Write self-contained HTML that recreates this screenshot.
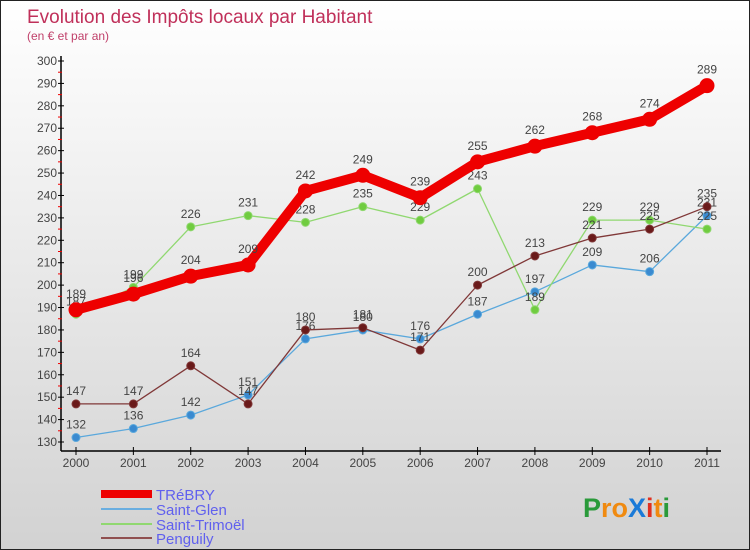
<!DOCTYPE html>
<html><head><meta charset="utf-8"><style>
body{margin:0;}
#wrap{width:750px;height:550px;position:relative;box-sizing:border-box;border:1px solid #222;background:linear-gradient(#ffffff,#d2d2d2);font-family:"Liberation Sans",sans-serif;overflow:hidden}
svg text{font-family:"Liberation Sans",sans-serif}
</style></head><body>
<div id="wrap">
<svg id="chart" width="750" height="550">
<text x="26" y="22" font-size="19" fill="#c0305a">Evolution des Impôts locaux par Habitant</text>
<text x="26" y="39" font-size="12" fill="#c0406a">(en € et par an)</text>
<g id="axes"></g><g id="series"></g>
<g>
<rect x="100" y="489" width="51" height="8" fill="#e00"/>
<text x="155" y="499" font-size="15" fill="#6060ee">TRéBRY</text>
<rect x="100" y="507" width="51" height="2" fill="#6aaee0"/>
<text x="155" y="514" font-size="15" fill="#6060ee">Saint-Glen</text>
<rect x="100" y="522" width="51" height="2" fill="#90d870"/>
<text x="155" y="529" font-size="15" fill="#6060ee">Saint-Trimoël</text>
<rect x="100" y="536" width="51" height="2" fill="#905050"/>
<text x="155" y="543" font-size="15" fill="#6060ee">Penguily</text>
</g>
<text x="582" y="516" font-size="27" font-weight="bold"><tspan fill="#2a9a3a">P</tspan><tspan fill="#f08a10">ro</tspan><tspan fill="#1a7ad8">X</tspan><tspan fill="#e03020">i</tspan><tspan fill="#f08a10">t</tspan><tspan fill="#2a9a3a">i</tspan></text>
</svg></div>
<script>
const years=[2000,2001,2002,2003,2004,2005,2006,2007,2008,2009,2010,2011];
const trebry=[189,196,204,209,242,249,239,255,262,268,274,289];
const saintGlen=[132,136,142,151,176,180,176,187,197,209,206,231];
const saintTrimoel=[187,199,226,231,228,235,229,243,189,229,229,225];
const penguily=[147,147,164,147,180,181,171,200,213,221,225,235];
const yTicks=[130,140,150,160,170,180,190,200,210,220,230,240,250,260,270,280,290,300];
const NS="http://www.w3.org/2000/svg";
const x=i=>75+i*(706-75)/(years.length-1);
const y=v=>441-(v-130)*(441-60)/170;
function mk(t,a,p){const e=document.createElementNS(NS,t);for(const k in a)e.setAttribute(k,a[k]);p.appendChild(e);return e;}
const ax=document.getElementById('axes');
let e=mk('line',{x1:60,y1:55,x2:60,y2:450,stroke:'#000','stroke-width':1.5},ax);


e=mk('line',{x1:60,y1:450,x2:720,y2:450,stroke:'#000','stroke-width':1.5},ax);


yTicks.forEach((v,i)=>{
 mk('line',{x1:57,y1:y(v),x2:63,y2:y(v),stroke:'#000'},ax);
 if(i<yTicks.length-1)mk('line',{x1:57,y1:y(v+5),x2:61,y2:y(v+5),stroke:'#e00'},ax);
 const t=mk('text',{x:56,y:y(v)+4,'font-size':12,fill:'#444','text-anchor':'end'},ax);t.textContent=v;
 
 
});
years.forEach((yr,i)=>{
 mk('line',{x1:x(i),y1:446,x2:x(i),y2:454,stroke:'#000'},ax);
 const t=mk('text',{x:x(i),y:466,'font-size':12,fill:'#444','text-anchor':'middle'},ax);t.textContent=yr;
 
 
});
const sg=document.getElementById('series');
function draw(vals,name,color,dot,w,r){
 const g=mk('g',{},sg);
 
 
 const p=mk('polyline',{points:vals.map((v,i)=>x(i)+','+y(v)).join(' '),fill:'none',stroke:color,'stroke-width':w,'stroke-linejoin':'round'},g);
 
 
 vals.forEach((v,i)=>{
  const c=mk('circle',{cx:x(i),cy:y(v),r:r,fill:dot,stroke:color,'stroke-width':1},g);
  
  
  const t=mk('text',{x:x(i),y:y(v)-r-5,'font-size':12,fill:'#444','text-anchor':'middle'},g);t.textContent=v;
  
  
 });
}
draw(saintGlen,'saint-glen','#5aa8dc','#3a8ad0',1.3,4);
draw(saintTrimoel,'saint-trimoel','#90d870','#70cc40',1.3,4);
draw(penguily,'penguily','#803838','#6a1a1a',1.3,4);
draw(trebry,'trebry','#ee0000','#ee0000',10,7);
</script>
</body></html>
